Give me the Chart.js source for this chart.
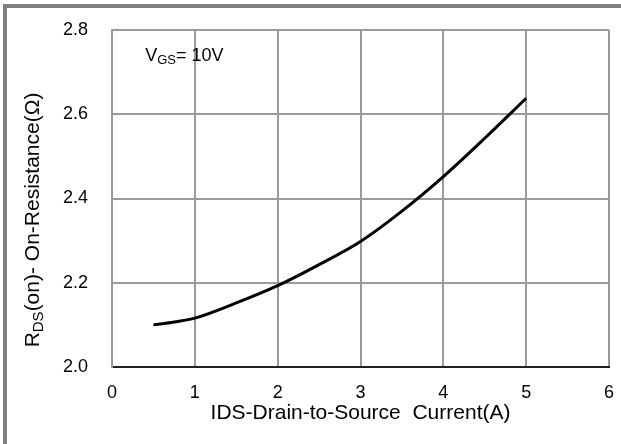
<!DOCTYPE html>
<html>
<head>
<meta charset="utf-8">
<script src="https://cdn.jsdelivr.net/npm/chart.js@4/dist/chart.umd.min.js"></script>
<style>
  html, body { margin: 0; padding: 0; background: #fff; }
  #wrap { position: relative; width: 621px; height: 444px; overflow: hidden; background: #fff; }
  #frame { position: absolute; left: 3px; top: 4px; width: 700px; height: 600px; border: 4px solid #808080; box-sizing: border-box; }
  canvas { position: absolute; left: 0; top: 0; }
</style>
</head>
<body>
<div id="wrap">
  <div id="frame"></div>
  <canvas id="c" width="621" height="444"></canvas>
</div>
<script>
// Data
const currentA = [0.5, 0.75, 1.0, 1.5, 2.0, 2.5, 3.0, 3.5, 4.0, 4.5, 5.0];
const rdsOn    = [2.100, 2.107, 2.116, 2.152, 2.193, 2.243, 2.298, 2.370, 2.452, 2.543, 2.638];
const xTickValues = [0, 1, 2, 3, 4, 5, 6];
const yTickValues = [2.0, 2.2, 2.4, 2.6, 2.8];
const xAxisTitle = 'IDS-Drain-to-Source  Current(A)';
const yTitleMain = 'R', yTitleSub = 'DS', yTitleRest = '(on)- On-Resistance(Ω)';
const noteMain = 'V', noteSub = 'GS', noteRest = '= 10V';

const FONT = '"Liberation Sans", Arial, sans-serif';
const PLOT = { left: 112, right: 609, top: 30, bottom: 367 };
const pad = { top: 30, right: 12, left: 0, bottom: 14 };

const textPlugin = {
  id: 'texts',
  afterDraw(chart) {
    const ctx = chart.ctx;
    ctx.save();
    ctx.fillStyle = '#000';
    // y axis title (rotated, with subscript)
    const big = '21px ' + FONT, small = '15px ' + FONT;
    ctx.font = big; const w1 = ctx.measureText(yTitleMain).width;
    const w3 = ctx.measureText(yTitleRest).width;
    ctx.font = small; const w2 = ctx.measureText(yTitleSub).width;
    const total = w1 + w2 + w3;
    ctx.translate(39, 220);
    ctx.rotate(-Math.PI / 2);
    ctx.textBaseline = 'alphabetic';
    ctx.textAlign = 'left';
    let x = -total / 2;
    ctx.font = big; ctx.fillText(yTitleMain, x, 0); x += w1;
    ctx.font = small; ctx.fillText(yTitleSub, x, 4); x += w2;
    ctx.font = big; ctx.fillText(yTitleRest, x, 0);
    ctx.restore();

    // annotation V_GS = 10V
    ctx.save();
    ctx.fillStyle = '#000';
    ctx.textBaseline = 'alphabetic';
    ctx.textAlign = 'left';
    const xs = chart.scales.x, ys = chart.scales.y;
    let nx = xs.getPixelForValue(0.4), ny = ys.getPixelForValue(2.726);
    const nb = '18px ' + FONT, ns = '13px ' + FONT;
    ctx.font = nb; ctx.fillText(noteMain, nx, ny); nx += ctx.measureText(noteMain).width;
    ctx.font = ns; ctx.fillText(noteSub, nx, ny + 3); nx += ctx.measureText(noteSub).width;
    ctx.font = nb; ctx.fillText(noteRest, nx, ny);
    ctx.restore();
  }
};

const chart = new Chart(document.getElementById('c'), {
  type: 'line',
  data: {
    datasets: [{
      data: currentA.map((x, i) => ({ x: x, y: rdsOn[i] })),
      borderColor: '#000',
      borderWidth: 3,
      pointRadius: 0,
      fill: false,
      cubicInterpolationMode: 'monotone'
    }]
  },
  options: {
    responsive: false,
    animation: false,
    events: [],
    layout: { padding: pad },
    plugins: { legend: { display: false }, tooltip: { enabled: false } },
    scales: {
      x: {
        type: 'linear',
        min: 0, max: 6,
        afterBuildTicks: s => { s.ticks = xTickValues.map(v => ({ value: v })); },
        afterFit: s => { s.height = 63; },
        ticks: { color: '#000', font: { family: FONT, size: 18 }, padding: 3 },
        grid: { color: '#9a9a9a', lineWidth: 2, drawTicks: true, tickLength: 12, tickColor: 'rgba(0,0,0,0)' },
        border: { color: '#202020', width: 2 },
        title: { display: true, text: xAxisTitle, color: '#000', font: { family: FONT, size: 21 }, padding: { top: 2, bottom: 4 } }
      },
      y: {
        type: 'linear',
        min: 2.0, max: 2.8,
        afterBuildTicks: s => { s.ticks = yTickValues.map(v => ({ value: v })); },
        afterFit: s => { s.width = 112; },
        ticks: { color: '#000', font: { family: FONT, size: 18 }, padding: 3, callback: v => Number(v).toFixed(1) },
        grid: { color: '#9a9a9a', lineWidth: 2, drawTicks: true, tickLength: 21, tickColor: 'rgba(0,0,0,0)' },
        border: { color: '#9a9a9a', width: 2 }
      }
    }
  },
  plugins: [textPlugin]
});

// nudge the layout padding so the plot area lands where it sits in the reference
for (let i = 0; i < 3; i++) {
  const ca = chart.chartArea;
  const d = Math.abs(PLOT.top - ca.top) + Math.abs(ca.right - PLOT.right) + Math.abs(PLOT.left - ca.left) + Math.abs(ca.bottom - PLOT.bottom);
  if (d < 0.5) break;
  pad.top += PLOT.top - ca.top;
  pad.right += ca.right - PLOT.right;
  pad.left += PLOT.left - ca.left;
  pad.bottom += ca.bottom - PLOT.bottom;
  chart.options.layout.padding = Object.assign({}, pad);
  chart.update('none');
}
</script>
</body>
</html>
